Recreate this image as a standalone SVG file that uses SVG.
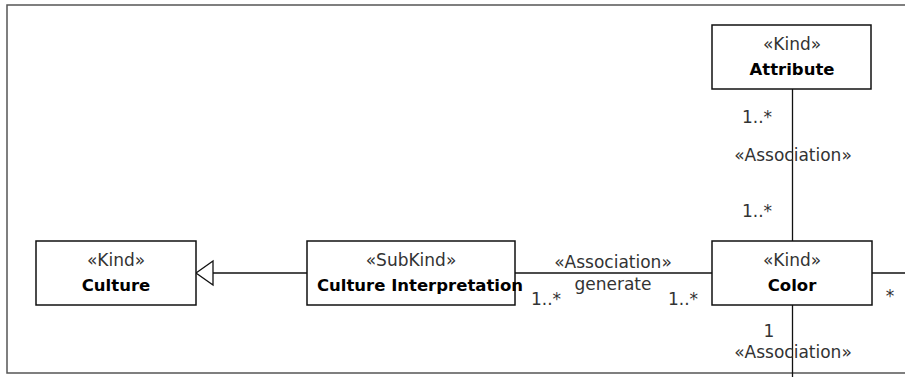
<svg xmlns="http://www.w3.org/2000/svg" width="905" height="377" viewBox="0 0 905 377">
  <defs>
    <style>
      .frame { fill: none; stroke: #555; stroke-width: 1.5; }
      .box { fill: #fff; stroke: #111; stroke-width: 1.5; }
      .edge { fill: none; stroke: #111; stroke-width: 1.3; }
      .head { fill: #fff; stroke: #111; stroke-width: 1.3; }
      text { font-family: "DejaVu Sans", "Noto Sans", sans-serif; font-size: 17px; }
      .st { fill: #333; text-anchor: middle; }
      .nm { fill: #000; font-weight: bold; text-anchor: middle; font-size: 16.5px; }
      .lbl { fill: #333; text-anchor: middle; }
    </style>
  </defs>

  <rect width="905" height="377" fill="#fff"/>
  <!-- diagram frame, open on the right -->
  <path class="frame" d="M905,5 H7 V373 H905"/>

  <g id="connectors">
    <!-- Culture Interpretation generalizes Culture -->
    <line class="edge" x1="307" y1="273" x2="213" y2="273"/>
    <polygon class="head" points="196,273 213,261 213,285"/>

    <!-- Culture Interpretation - Color -->
    <line class="edge" x1="515" y1="273" x2="712" y2="273"/>
    <text class="lbl" x="613" y="268">«Association»</text>
    <text class="lbl" x="613" y="290">generate</text>
    <text class="lbl" x="546" y="305">1..*</text>
    <text class="lbl" x="683" y="305">1..*</text>

    <!-- Attribute - Color -->
    <line class="edge" x1="792.5" y1="89" x2="792.5" y2="241"/>
    <text class="lbl" x="757" y="123">1..*</text>
    <text class="lbl" x="793" y="161">«Association»</text>
    <text class="lbl" x="757" y="217">1..*</text>

    <!-- Color outgoing, right -->
    <line class="edge" x1="872" y1="273" x2="905" y2="273"/>
    <text class="lbl" x="890" y="302">*</text>

    <!-- Color outgoing, bottom -->
    <line class="edge" x1="792.5" y1="305" x2="792.5" y2="377"/>
    <text class="lbl" x="769" y="337">1</text>
    <text class="lbl" x="793" y="358">«Association»</text>
  </g>

  <g id="node-culture">
    <rect class="box" x="36" y="241" width="160" height="64"/>
    <text class="st" x="116" y="266">«Kind»</text>
    <text class="nm" x="116" y="291">Culture</text>
  </g>

  <g id="node-culture-interpretation">
    <rect class="box" x="307" y="241" width="208" height="64"/>
    <text class="st" x="411" y="266">«SubKind»</text>
    <text class="nm" x="420" y="291">Culture Interpretation</text>
  </g>

  <g id="node-color">
    <rect class="box" x="712" y="241" width="160" height="64"/>
    <text class="st" x="792" y="266">«Kind»</text>
    <text class="nm" x="792" y="291">Color</text>
  </g>

  <g id="node-attribute">
    <rect class="box" x="712" y="25" width="159" height="64"/>
    <text class="st" x="792" y="50">«Kind»</text>
    <text class="nm" x="792" y="75">Attribute</text>
  </g>
</svg>
